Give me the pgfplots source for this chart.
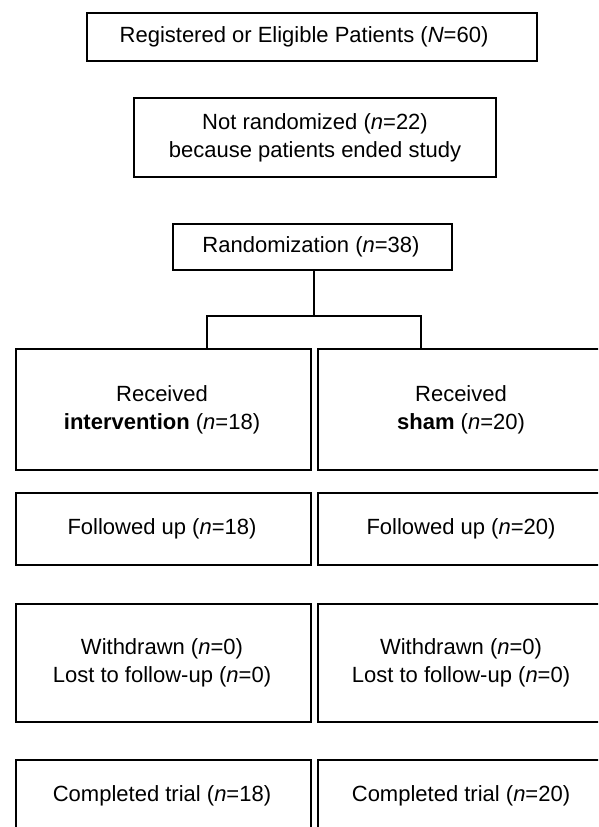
\documentclass[border=0pt]{standalone}
\usepackage{pgfplots}
\pgfplotsset{compat=1.18}
\usepackage{fontspec}
\setmainfont{Liberation Sans}
\tikzset{bx/.style={black,solid,line width=1.8pt,line join=miter,line cap=rect,mark=none}}
\begin{document}
\begin{tikzpicture}
\begin{axis}[width=598pt,height=827pt,scale only axis,
  xmin=0,xmax=598,ymin=0,ymax=827,y dir=reverse,hide axis,clip=true,
  nodes={font=\fontsize{22}{28}\selectfont,align=center,text=black}]
% top boxes
\addplot[bx] coordinates {(87,13) (537,13) (537,61) (87,61) (87,13)};
\addplot[bx] coordinates {(134,98) (496,98) (496,177) (134,177) (134,98)};
\addplot[bx] coordinates {(173,224) (452,224) (452,270) (173,270) (173,224)};
% connector
\addplot[bx] coordinates {(314,270) (314,316)};
\addplot[bx] coordinates {(207,347) (207,316) (421,316) (421,347)};
% left column
\addplot[bx] coordinates {(16,349) (311,349) (311,470) (16,470) (16,349)};
\addplot[bx] coordinates {(16,493) (311,493) (311,565) (16,565) (16,493)};
\addplot[bx] coordinates {(16,604) (311,604) (311,722) (16,722) (16,604)};
\addplot[bx] coordinates {(16,860) (16,760) (311,760) (311,860)};
% right column (cut at the right edge)
\addplot[bx] coordinates {(610,349) (318,349) (318,470) (610,470)};
\addplot[bx] coordinates {(610,493) (318,493) (318,565) (610,565)};
\addplot[bx] coordinates {(610,604) (318,604) (318,722) (610,722)};
\addplot[bx] coordinates {(610,760) (318,760) (318,860)};
% texts
\node at (axis cs:304,37) {Registered or Eligible Patients (\textit{N}=60)};
\node at (axis cs:315,137.5) {Not randomized (\textit{n}=22)\\because patients ended study};
\node at (axis cs:311,247) {Randomization (\textit{n}=38)};
\node at (axis cs:162,410) {Received\\\textbf{intervention} (\textit{n}=18)};
\node at (axis cs:461,410) {Received\\\textbf{sham} (\textit{n}=20)};
\node at (axis cs:162,529) {Followed up (\textit{n}=18)};
\node at (axis cs:461,529) {Followed up (\textit{n}=20)};
\node at (axis cs:162,663) {Withdrawn (\textit{n}=0)\\Lost to follow-up (\textit{n}=0)};
\node at (axis cs:461,663) {Withdrawn (\textit{n}=0)\\Lost to follow-up (\textit{n}=0)};
\node at (axis cs:162,796) {Completed trial (\textit{n}=18)};
\node at (axis cs:461,796) {Completed trial (\textit{n}=20)};
\end{axis}
\pgfresetboundingbox
\useasboundingbox (current axis.south west) rectangle (current axis.north east);
\end{tikzpicture}
\end{document}
